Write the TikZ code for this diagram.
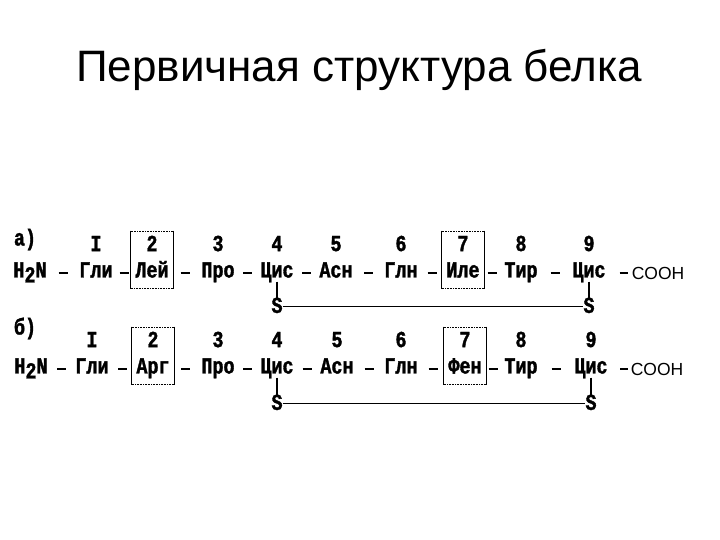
\documentclass[tikz,border=0pt]{standalone}
\usepackage{fontspec}
\setmainfont{Liberation Sans}
\newfontfamily\typew[FakeStretch=0.8,FakeBold=1.5]{Liberation Mono Bold}
\usetikzlibrary{positioning,fit,calc}

\begin{document}
\begin{tikzpicture}[x=1pt,y=1pt,
    res/.style={font=\typew\fontsize{23}{23}\selectfont,inner sep=0pt,text height=13pt,text depth=4pt},
    sulf/.style={font=\typew\fontsize{23}{23}\selectfont,inner sep=0pt,text height=13pt,text depth=0pt},
    cooh/.style={font=\fontsize{17.5}{18}\selectfont,inner sep=0pt},
    resbox/.style={draw,densely dotted,line width=0.6pt,inner xsep=4.5pt,inner ysep=7pt},
    boxside/.style={line width=1.4pt},
    bond/.style={line width=2pt,to path={($(\tikztostart)!0.5!(\tikztotarget)$) +(-4.5pt,0) -- +(4.5pt,0)}},
    cbond/.style={line width=1.3pt,to path={($(\tikztostart)!0.5!(\tikztotarget)$) +(-4pt,0) -- +(4pt,0)}},
    ss/.style={line width=1.2pt},
    node distance=9pt
    ]
    \useasboundingbox (0,0) rectangle (720,540);

    \node (title) at (359,470) {\fontsize{44}{52}\selectfont Первичная структура белка};

    % row a
    \node (la) [res] at (25,299) {а)};
    \node (a0) [res] at (30,267) {H\raisebox{-5pt}{2}N};
    \node (a1) [res] at (96,267) {Гли};
    \node (a2) [res] at (152,267) {Лей};
    \node (a3) [res] at (218,267) {Про};
    \node (a4) [res] at (277,267) {Цис};
    \node (a5) [res] at (336,267) {Асн};
    \node (a6) [res] at (401,267) {Глн};
    \node (a7) [res] at (463,267) {Иле};
    \node (a8) [res] at (521,267) {Тир};
    \node (a9) [res] at (589,267) {Цис};
    \node (ac) [cooh] at (658,267) {COOH};
    \node (na1) [res,above=of a1] {I};
    \node (na2) [res,above=of a2] {2};
    \node (na3) [res,above=of a3] {3};
    \node (na4) [res,above=of a4] {4};
    \node (na5) [res,above=of a5] {5};
    \node (na6) [res,above=of a6] {6};
    \node (na7) [res,above=of a7] {7};
    \node (na8) [res,above=of a8] {8};
    \node (na9) [res,above=of a9] {9};
    \node (ba2) [resbox,fit=(na2)(a2)] {};
    \node (ba7) [resbox,fit=(na7)(a7)] {};
    \node (sa4) [sulf,below=18pt of a4] {S};
    \node (sa9) [sulf,below=18pt of a9] {S};

    % row b
    \node (lb) [res] at (25,210) {б)};
    \node (b0) [res] at (31,171) {H\raisebox{-5pt}{2}N};
    \node (b1) [res] at (92,171) {Гли};
    \node (b2) [res] at (153,171) {Арг};
    \node (b3) [res] at (218,171) {Про};
    \node (b4) [res] at (277,171) {Цис};
    \node (b5) [res] at (337,171) {Асн};
    \node (b6) [res] at (401,171) {Глн};
    \node (b7) [res] at (465,171) {Фен};
    \node (b8) [res] at (521,171) {Тир};
    \node (b9) [res] at (591,171) {Цис};
    \node (bc) [cooh] at (657,171) {COOH};
    \node (nb1) [res,above=of b1] {I};
    \node (nb2) [res,above=of b2] {2};
    \node (nb3) [res,above=of b3] {3};
    \node (nb4) [res,above=of b4] {4};
    \node (nb5) [res,above=of b5] {5};
    \node (nb6) [res,above=of b6] {6};
    \node (nb7) [res,above=of b7] {7};
    \node (nb8) [res,above=of b8] {8};
    \node (nb9) [res,above=of b9] {9};
    \node (bb2) [resbox,fit=(nb2)(b2)] {};
    \node (bb7) [resbox,fit=(nb7)(b7)] {};
    \node (sb4) [sulf,below=19pt of b4] {S};
    \node (sb9) [sulf,below=19pt of b9] {S};

    % box sides
    \draw[boxside] (ba2.north west) -- (ba2.south west) (ba2.north east) -- (ba2.south east);
    \draw[boxside] (ba7.north west) -- (ba7.south west) (ba7.north east) -- (ba7.south east);
    \draw[boxside] (bb2.north west) -- (bb2.south west) (bb2.north east) -- (bb2.south east);
    \draw[boxside] (bb7.north west) -- (bb7.south west) (bb7.north east) -- (bb7.south east);

    % the peptide bonds
    \draw[bond] (a0) to (a1);
    \draw[bond] (a1) to (a2);
    \draw[bond] (a2) to (a3);
    \draw[bond] (a3) to (a4);
    \draw[bond] (a4) to (a5);
    \draw[bond] (a5) to (a6);
    \draw[bond] (a6) to (a7);
    \draw[bond] (a7) to (a8);
    \draw[bond] (a8) to (a9);
    \draw[cbond] (a9) to (ac);
    \draw[bond] (b0) to (b1);
    \draw[bond] (b1) to (b2);
    \draw[bond] (b2) to (b3);
    \draw[bond] (b3) to (b4);
    \draw[bond] (b4) to (b5);
    \draw[bond] (b5) to (b6);
    \draw[bond] (b6) to (b7);
    \draw[bond] (b7) to (b8);
    \draw[bond] (b8) to (b9);
    \draw[cbond] (b9) to (bc);

    % disulfide bridges
    \draw[ss] (a4.south) -- (sa4.north);
    \draw[ss] (a9.south) -- (sa9.north);
    \draw[ss] (sa4.east) -- (sa9.west);
    \draw[ss] (b4.south) -- (sb4.north);
    \draw[ss] (b9.south) -- (sb9.north);
    \draw[ss] (sb4.east) -- (sb9.west);
\end{tikzpicture}
\end{document}
